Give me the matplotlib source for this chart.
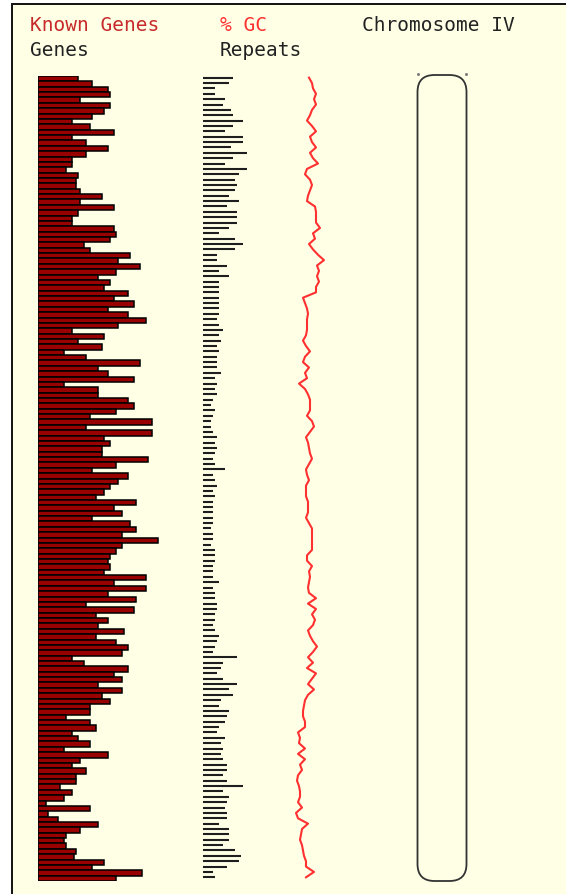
import numpy as np
import matplotlib
matplotlib.use("Agg")
import matplotlib.pyplot as plt
from matplotlib.patches import Rectangle, FancyBboxPatch

# known genes per bin (150 bins along chromosome IV, top to bottom)
genes = [20, 27, 35, 36, 21, 36, 33, 27, 17, 26,
         38, 17, 24, 35, 24, 17, 17, 14, 20, 19,
         19, 21, 32, 21, 38, 20, 17, 17, 38, 39,
         36, 23, 26, 46, 40, 51, 39, 30, 36, 33,
         45, 38, 48, 35, 45, 54, 40, 17, 33, 20,
         32, 13, 24, 51, 30, 35, 48, 13, 30, 30,
         45, 48, 39, 26, 57, 24, 57, 33, 36, 32,
         32, 55, 39, 27, 45, 40, 36, 33, 29, 49,
         38, 42, 27, 46, 49, 42, 60, 42, 39, 36,
         35, 36, 33, 54, 38, 54, 35, 49, 24, 48,
         29, 35, 30, 43, 29, 39, 45, 42, 17, 23,
         45, 38, 42, 30, 42, 32, 36, 26, 26, 14,
         26, 29, 17, 20, 26, 13, 35, 21, 17, 24,
         19, 19, 11, 17, 13, 4, 26, 5, 10, 30,
         21, 14, 13, 14, 19, 18, 33, 27, 52, 39]

# repeats per bin
repeats = [15, 13, 6, 6, 11, 10, 14, 15, 20, 15,
           11, 20, 20, 14, 22, 15, 11, 22, 18, 16,
           17, 16, 13, 18, 12, 17, 17, 17, 13, 8,
           16, 20, 16, 7, 7, 12, 8, 13, 8, 8,
           8, 8, 8, 8, 8, 7, 8, 10, 8, 9,
           7, 8, 7, 7, 7, 9, 6, 7, 6, 7,
           5, 4, 6, 5, 4, 4, 5, 7, 6, 7,
           6, 5, 6, 11, 5, 6, 7, 5, 6, 5,
           5, 5, 5, 5, 4, 5, 5, 4, 6, 6,
           6, 5, 5, 5, 8, 5, 6, 6, 7, 7,
           6, 6, 5, 6, 8, 7, 6, 5, 17, 10,
           9, 7, 10, 17, 13, 15, 9, 8, 13, 12,
           11, 8, 7, 11, 9, 10, 9, 10, 12, 12,
           10, 12, 20, 10, 13, 12, 11, 12, 12, 8,
           13, 13, 13, 10, 16, 19, 18, 12, 5, 6]

# GC content per bin
gc = [39, 42, 43, 46, 44, 46, 42, 40, 37, 42,
      46, 40, 42, 46, 40, 43, 48, 37, 35, 40,
      42, 40, 38, 37, 45, 46, 46, 46, 50, 43,
      45, 39, 43, 48, 54, 47, 49, 47, 49, 46,
      46, 33, 35, 37, 38, 37, 37, 37, 36, 33,
      36, 40, 35, 33, 39, 35, 37, 29, 35, 38,
      40, 40, 40, 37, 42, 44, 40, 36, 38, 39,
      40, 42, 39, 36, 37, 39, 36, 36, 36, 38,
      38, 38, 36, 39, 42, 42, 42, 42, 42, 37,
      37, 42, 39, 40, 39, 38, 39, 46, 38, 46,
      42, 45, 43, 38, 40, 43, 47, 43, 38, 43,
      37, 46, 42, 38, 44, 38, 35, 34, 33, 33,
      35, 35, 28, 30, 29, 35, 28, 35, 30, 32,
      28, 27, 29, 30, 30, 28, 32, 26, 28, 38,
      32, 31, 30, 32, 33, 34, 36, 36, 44, 36]

chrom_name = "Chromosome IV"

W, H = 566, 895
fig = plt.figure(figsize=(W / 100, H / 100), dpi=100)
fig.patch.set_facecolor("white")


def px_axes(x0, x1, y0, y1):
    ax = fig.add_axes([x0 / W, 1 - y1 / H, (x1 - x0) / W, (y1 - y0) / H])
    ax.set_axis_off()
    ax.patch.set_alpha(0)
    return ax


# background panel, text and chromosome outline
bg = fig.add_axes([0, 0, 1, 1])
bg.set_xlim(0, W)
bg.set_ylim(H, 0)
bg.set_axis_off()
bg.add_patch(Rectangle((11.5, 4.5), W + 20, H + 20, facecolor="#ffffe6",
                       edgecolor="#111111", linewidth=1.4, clip_on=True))

mono = "DejaVu Sans Mono"
fs = 14
bg.text(30, 31, "Known Genes", color="#c62a2a", fontsize=fs, family=mono)
bg.text(30, 56, "Genes", color="#222222", fontsize=fs, family=mono)
bg.text(220, 31, "% GC", color="#ff3030", fontsize=fs, family=mono)
bg.text(220, 56, "Repeats", color="#222222", fontsize=fs, family=mono)
bg.text(362, 31, chrom_name, color="#222222", fontsize=fs, family=mono)

bg.add_patch(FancyBboxPatch((417.5, 76), 49, 806,
                            boxstyle="round,pad=0,rounding_size=17",
                            facecolor="none", edgecolor="#333333", linewidth=1.3))
bg.plot([418, 466], [75, 75], ls="none", marker="s", ms=1.0, color="#777777")

rows = np.arange(len(genes)) + 0.5

# genes
ax_g = px_axes(38, 200, 77, 882)
ax_g.set_xlim(0, 81)
ax_g.set_ylim(len(genes), 0)
ax_g.barh(rows, genes, height=1.0, left=0, color="#990000",
          edgecolor="black", linewidth=1.1)

# repeats
ax_r = px_axes(202.7, 262.7, 76, 881)
ax_r.set_xlim(0, 30)
ax_r.set_ylim(len(repeats), 0)
ax_r.hlines(rows, 0, repeats, color="#1e1e1e", linewidth=1.5, capstyle="butt")

# GC
ax_c = px_axes(270, 350, 76, 881)
ax_c.set_xlim(0, 80)
ax_c.set_ylim(len(gc), 0)
ax_c.plot(gc, rows, color="#ff3030", linewidth=1.5)

fig.savefig("out.png", dpi=100, facecolor="white")
